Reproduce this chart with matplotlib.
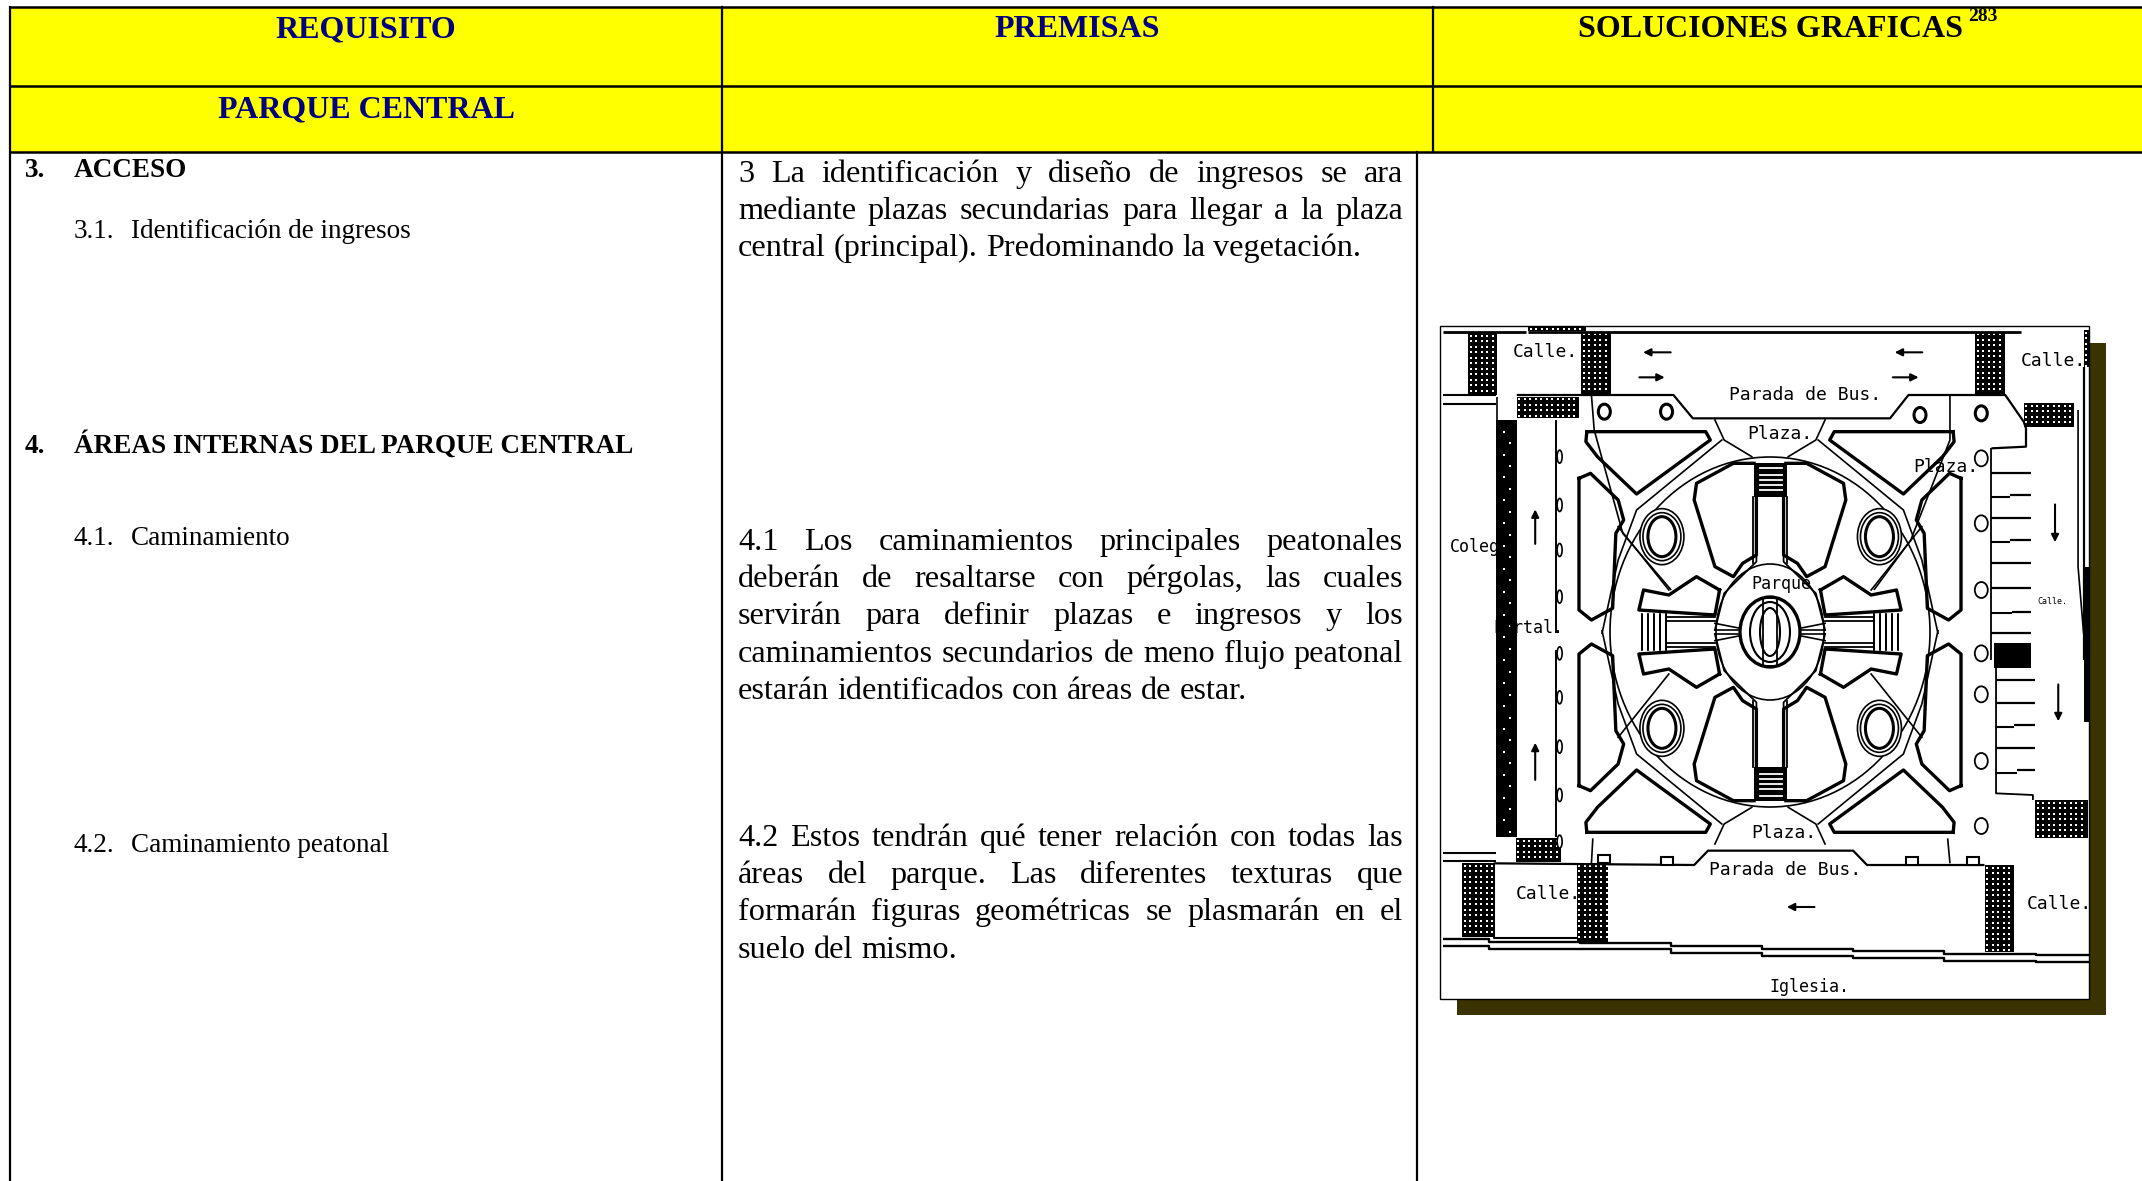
import matplotlib
matplotlib.use('AGG')
import matplotlib.pyplot as plt
from matplotlib.patches import Rectangle, Ellipse, Polygon

W, H = 2142, 1181
SERIF = 'Liberation Serif'
NAVY = '#000080'

header_titles = ['REQUISITO', 'PREMISAS', 'SOLUCIONES GRAFICAS']
sub_title = 'PARQUE CENTRAL'
footnote = '283'

left_items = [
    (25, 177, '3.', True), (74, 177, 'ACCESO', True),
    (74, 238, '3.1.', False), (131, 238, 'Identificación de ingresos', False),
    (25, 453, '4.', True), (74, 453, 'ÁREAS INTERNAS DEL PARQUE CENTRAL', True),
    (74, 545, '4.1.', False), (131, 545, 'Caminamiento', False),
    (74, 852, '4.2.', False), (131, 852, 'Caminamiento peatonal', False),
]

para_3 = ['3 La identificación y diseño de ingresos se ara',
          'mediante plazas secundarias para llegar a la plaza',
          'central (principal). Predominando la vegetación.']
para_41 = ['4.1 Los caminamientos principales peatonales',
           'deberán de resaltarse con pérgolas, las cuales',
           'servirán para definir plazas e ingresos y los',
           'caminamientos secundarios de meno flujo peatonal',
           'estarán identificados con áreas de estar.']
para_42 = ['4.2 Estos tendrán qué tener relación con todas las',
           'áreas del parque. Las diferentes texturas que',
           'formarán figuras geométricas se plasmarán en el',
           'suelo del mismo.']
para_y = [182, 550, 846]

fig = plt.figure(figsize=(W / 100, H / 100), dpi=100)
ax = fig.add_axes([0, 0, 1, 1])
ax.set_xlim(0, W)
ax.set_ylim(H, 0)
ax.axis('off')


# the crops of the plan are read at 2.17 px/px across and 3 px/px down
def zx(x):
    return 1420 + x / 2.17


def zy(y, low=False):
    return (650 if low else 300) + y / 3


def line(pts, lw=1.3, low=False, color='k'):
    ax.plot([zx(p[0]) for p in pts], [zy(p[1], low) for p in pts], color=color, lw=lw,
            solid_capstyle='butt', zorder=4)


def mirrored(pts, lw=1.3):
    # interior of the park repeats around its centre
    for sx in (1, -1):
        for sy in (1, -1):
            ax.plot([1770 + sx * (zx(p[0]) - 1770) for p in pts],
                    [632 + sy * (zy(p[1]) - 632) for p in pts],
                    color='k', lw=lw, zorder=4)


def hatch(x0, x1, y0, y1, low=False):
    a, b = zx(x0), zx(x1)
    c, d = zy(y0, low), zy(y1, low)
    ax.add_patch(Rectangle((a, c), b - a, d - c, fc='k', ec='none', zorder=3))
    xs, ys = [], []
    i = a + 2.5
    while i < b - 1:
        j = c + 2.5
        while j < d - 1:
            xs.append(i)
            ys.append(j)
            j += 5.5
        i += 5.5
    ax.scatter(xs, ys, s=3, marker='s', c='white', linewidths=0, zorder=4)


def arrow(x0, y0, x1, y1, low=False):
    ax.annotate('', xy=(zx(x1), zy(y1, low)), xytext=(zx(x0), zy(y0, low)),
                arrowprops=dict(arrowstyle='-|>', color='k', lw=1.5, mutation_scale=11), zorder=5)


def plan_text(x, y, s, size=13, low=False):
    ax.text(zx(x), zy(y, low), s, family='DejaVu Sans Mono', fontsize=size, va='center', ha='center',
            color='k', zorder=6)


def justified(lines, y0, x0=738, x1=1403, size=23.2, pitch=37.2):
    r = fig.canvas.get_renderer()
    for n, s in enumerate(lines):
        y = y0 + n * pitch
        words = s.split()
        ts = [ax.text(0, y, w, family=SERIF, fontsize=size, va='baseline', color='k') for w in words]
        ws = [t.get_window_extent(r).width for t in ts]
        total = sum(ws)
        if n == len(lines) - 1:
            gap = size * 100 / 72 * 0.25
        else:
            gap = (x1 - x0 - total) / (len(words) - 1)
        x = x0
        for t, w in zip(ts, ws):
            t.set_x(x)
            x += w + gap


# table
ax.add_patch(Rectangle((10, 7), W - 10, 145, fc='#ffff00', ec='none', zorder=1))
for y in [7, 86, 152]:
    ax.plot([10, W], [y, y], color='k', lw=1.8, zorder=2)
ax.plot([10, 10], [7, H], color='k', lw=1.6, zorder=2)
ax.plot([722, 722], [7, H], color='k', lw=1.6, zorder=2)
ax.plot([1433, 1433], [7, 152], color='k', lw=1.6, zorder=2)
ax.plot([1417, 1417], [152, H], color='k', lw=1.6, zorder=2)

ax.text(366, 37, header_titles[0], family=SERIF, weight='bold', fontsize=23, color=NAVY, ha='center')
ax.text(1077, 37, header_titles[1], family=SERIF, weight='bold', fontsize=23, color=NAVY, ha='center')
ax.text(1578, 37, header_titles[2], family=SERIF, weight='bold', fontsize=23, color='k', ha='left')
ax.text(1968, 21, footnote, family=SERIF, weight='bold', fontsize=14, color='k', ha='left')
ax.text(366, 117, sub_title, family=SERIF, weight='bold', fontsize=23, color=NAVY, ha='center')

for x, y, s, b in left_items:
    ax.text(x, y, s, family=SERIF, weight='bold' if b else 'normal', fontsize=19.5, color='k')

fig.canvas.draw()
justified(para_3, para_y[0])
justified(para_41, para_y[1])
justified(para_42, para_y[2])

# plan: shadow and sheet
ax.add_patch(Rectangle((1457, 343), 2106 - 1457, 1015 - 343, fc='#3a3300', ec='none', zorder=2))
ax.add_patch(Rectangle((1440, 326), 2089 - 1440, 999 - 326, fc='white', ec='k', lw=1, zorder=3))

hatch(105, 168, 100, 285)
hatch(350, 415, 95, 285)
hatch(1205, 1270, 95, 285)
hatch(210, 345, 290, 355)
hatch(1310, 1420, 310, 380)
hatch(235, 360, 80, 92)
hatch(1440, 1454, 90, 200)
hatch(92, 160, 640, 860, True)
hatch(340, 408, 640, 875, True)
hatch(1225, 1288, 645, 905, True)
hatch(208, 305, 565, 635, True)
hatch(1335, 1450, 450, 565, True)

# roads
line([(50, 97), (230, 97)], 2)
line([(235, 95), (1305, 95)], 2)
line([(50, 285), (165, 285)], 1.5)
line([(50, 312), (165, 312)], 1.5)
line([(210, 285), (550, 285), (592, 355), (1020, 355), (1060, 285), (1270, 285), (1310, 365), (1315, 385),
      (1315, 440), (1240, 445)], 1.6)
line([(50, 610), (165, 610)], 1.5, True)
line([(50, 632), (165, 632)], 1.5, True)
line([(160, 640), (595, 645), (625, 602), (940, 602), (970, 645), (1225, 645)], 1.6, True)
line([(160, 640), (160, 865), (340, 865)], 1.5, True)
for top in [868, 888]:
    steps = [(50, 0), (150, 8), (348, 10), (545, 20), (743, 30), (940, 35), (1138, 45), (1336, 48), (1452, 48)]
    pts = []
    for k in range(len(steps) - 1):
        pts.append((steps[k][0], top + steps[k][1]))
        pts.append((steps[k + 1][0], top + steps[k][1]))
    line(pts, 1.7, True)

# left strip
ax.add_patch(Rectangle((zx(165), zy(360)), zx(210) - zx(165), zy(560, True) - zy(360), fc='k', ec='none', zorder=3))
dots_left = [(182 if i % 2 == 0 else 195, 395 + i * 34.3) for i in range(37)]
ax.scatter([zx(d[0]) for d in dots_left], [zy(d[1]) for d in dots_left], s=4, marker='s', c='white',
           linewidths=0, zorder=4)
line([(295, 360), (295, 1000)], 1.4)
line([(295, 0), (295, 560)], 1.4, True)
line([(168, 290), (168, 360)], 1.2)
for yy in [470, 615, 750, 890, 1060, 1192, 1340, 1485, 1625]:
    ax.add_patch(Ellipse((zx(303), zy(yy)), 5, 13, fc='white', ec='k', lw=1.2, zorder=4))

# trees
for tx, ty in [(400, 335), (535, 335), (1085, 345), (1218, 340)]:
    ax.add_patch(Ellipse((zx(tx), zy(ty)), 12, 15, fc='white', ec='k', lw=2.2, zorder=4))
for tx, ty in [(400, 625), (535, 630), (1068, 630), (1200, 630)]:
    ax.add_patch(Rectangle((zx(tx) - 6, zy(ty, True) - 3), 12, 8, fc='white', ec='k', lw=1.5, zorder=4))

# right side: lamps and steps
for yy in [475, 670, 870, 1060, 1183, 1383, 1578]:
    ax.add_patch(Ellipse((zx(1218), zy(yy)), 13, 16, fc='white', ec='k', lw=1.3, zorder=4))
for yy, x0 in [(520, 1240), (585, 1280), (655, 1240), (720, 1280), (790, 1240), (865, 1240), (935, 1285), (1000, 1240)]:
    line([(x0, yy), (1325, yy)], 1.6)
line([(1240, 590), (1280, 590)], 1.5)
line([(1240, 725), (1280, 725)], 1.5)
line([(1240, 940), (1285, 940)], 1.5)
for yy, x0 in [(90, 1250), (160, 1250), (225, 1290), (295, 1250), (360, 1295)]:
    line([(x0, yy), (1335, yy)], 1.6, True)
line([(1250, 232), (1290, 232)], 1.5, True)
line([(1250, 368), (1295, 368)], 1.5, True)
ax.add_patch(Rectangle((zx(1245), zy(1030)), zx(1325) - zx(1245), 25, fc='k', ec='none', zorder=4))
line([(1240, 445), (1240, 1080)], 1.3)
line([(1250, 0), (1250, 430), (1330, 435), (1330, 450)], 1.3, True)
line([(1428, 330), (1428, 800), (1440, 1000)], 1.2)
line([(1440, 200), (1440, 1080)], 1.6)
ax.add_patch(Rectangle((zx(1440), zy(800)), zx(1454) - zx(1440), zy(215, True) - zy(800), fc='k', ec='none', zorder=4))
line([(1150, 285), (1150, 420), (1065, 720), (985, 870)], 1.2)
line([(372, 285), (378, 390), (440, 700), (545, 870)], 1.2)
line([(375, 565), (372, 640)], 1.2, True)
line([(1145, 565), (1150, 640)], 1.2, True)

# arrows in the streets
arrow(550, 157, 478, 157)
arrow(470, 232, 537, 232)
arrow(1096, 157, 1024, 157)
arrow(1020, 232, 1088, 232)
arrow(250, 740, 250, 620)
arrow(250, 398, 250, 270, True)
arrow(1378, 605, 1378, 735)
arrow(1385, 95, 1385, 222, True)
arrow(862, 771, 790, 771, True)

# park interior, one quadrant repeated
bed_tri = [(362, 395), (620, 395), (630, 420), (470, 582), (385, 470), (360, 425), (362, 395)]
bed_side = [(345, 535), (370, 520), (430, 600), (440, 660), (420, 720), (350, 720), (345, 930), (370, 960),
            (412, 930)]
bed_side = [(345, 535), (370, 520), (430, 600), (442, 660), (425, 700), (418, 925), (372, 960), (345, 930), (345, 535)]
bed_top = [(725, 490), (680, 490), (600, 550), (595, 600), (622, 720), (640, 800), (680, 830), (700, 790),
           (730, 765), (730, 590)]
bed_low = [(650, 870), (600, 830), (540, 885), (485, 870), (475, 930), (640, 945), (650, 870)]
for b in [bed_tri, bed_side, bed_top, bed_low]:
    mirrored(b, 2.4)
for xs_ in [482, 495, 508, 521, 534]:
    mirrored([(xs_, 945), (xs_, 1050)], 1.3)
mirrored([(534, 962), (640, 962)], 1.3)
mirrored([(534, 1040), (640, 1040)], 1.3)
mirrored([(730, 590), (730, 785), (660, 880), (640, 990)], 1.3)
mirrored([(640, 360), (660, 420), (720, 470)], 1.2)
mirrored([(655, 420), (470, 630), (430, 780), (395, 1000)], 1.2)
mirrored([(430, 680), (540, 870)], 1.2)
mirrored([(640, 990), (690, 990)], 1.2)
mirrored([(640, 970), (695, 985)], 1.2)

# big circle, central roundabout and four ringed spots
for rx, ry, lw in [(160, 175, 1.2), (54, 68, 1.2), (30, 35, 2.4), (20, 30, 1.5), (10, 24, 1.5)]:
    ax.add_patch(Ellipse((1770, 632), 2 * rx, 2 * ry, fc='none', ec='k', lw=lw, zorder=4))
ax.add_patch(Rectangle((1770 - 7, 632 - 34), 14, 68, fc='none', ec='k', lw=1.3, zorder=4))
for cx, cy in [(zx(525), zy(710)), (zx(997), zy(710)), (zx(525), zy(235, True)), (zx(997), zy(235, True))]:
    for rx, ry, lw in [(22, 28, 1.2), (19, 24, 1.2), (14, 20, 2.2)]:
        ax.add_patch(Ellipse((cx, cy), 2 * rx, 2 * ry, fc='white', ec='k', lw=lw, zorder=4))

# stairs on the main axis
for sy in (-1, 1):
    y0 = 632 + sy * (632 - zy(490))
    y1 = 632 + sy * (632 - zy(590))
    ax.add_patch(Rectangle((zx(725), min(y0, y1)), zx(797) - zx(725), abs(y1 - y0), fc='k', ec='none', zorder=4))
    for f in [0.15, 0.35, 0.5, 0.65, 0.8]:
        yy = y0 + (y1 - y0) * f
        ax.plot([zx(738), zx(785)], [yy, yy], color='white', lw=1.3, zorder=5)
mirrored([(797, 590), (797, 790)], 1.3)

plan_text(272, 155, 'Calle.')
plan_text(1374, 183, 'Calle.')
plan_text(835, 285, 'Parada de Bus.')
plan_text(780, 402, 'Plaza.')
plan_text(1142, 500, 'Plaza.')
plan_text(118, 740, 'Coleg', 12)
plan_text(235, 985, 'Portal.', 12)
plan_text(785, 852, 'Parque', 12)
plan_text(1372, 905, 'Calle.', 6)
plan_text(790, 548, 'Plaza.', 13, True)
plan_text(792, 660, 'Parada de Bus.', 13, True)
plan_text(278, 733, 'Calle.', 13, True)
plan_text(1388, 762, 'Calle.', 13, True)
plan_text(846, 1012, 'Iglesia.', 12, True)

fig.savefig('out.png', dpi=100)
